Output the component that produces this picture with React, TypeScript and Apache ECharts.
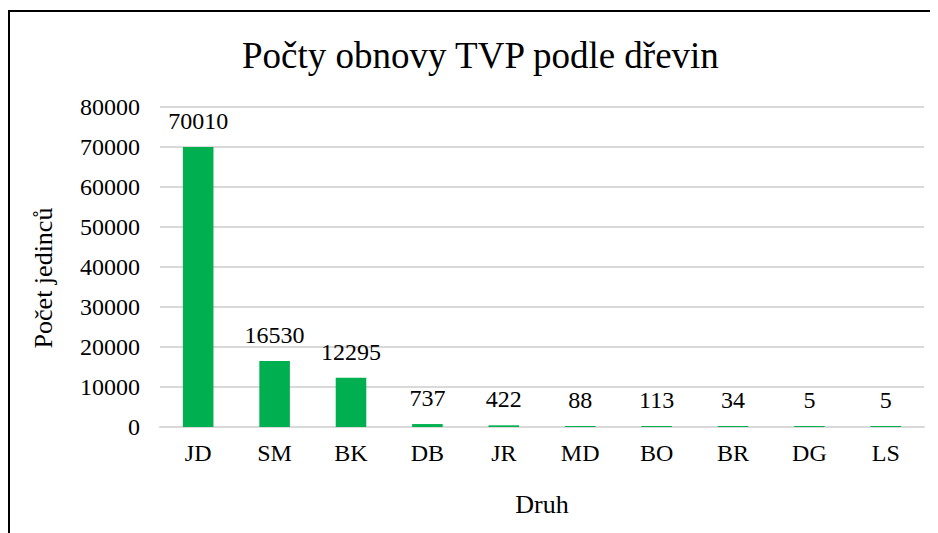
import React, { useEffect, useRef } from "react";
import * as echarts from "echarts";

const categories = ["JD", "SM", "BK", "DB", "JR", "MD", "BO", "BR", "DG", "LS"];
const values = [70010, 16530, 12295, 737, 422, 88, 113, 34, 5, 5];

const FONT = "Liberation Serif";

export default function App() {
  const ref = useRef<HTMLDivElement>(null);
  useEffect(() => {
    if (!ref.current) return;
    const chart = echarts.init(ref.current, null, { renderer: "svg" });
    const txt = { fontFamily: FONT, fontSize: 24, color: "#000" };
    const nameTxt = { fontFamily: FONT, fontSize: 26, color: "#000" };
    chart.setOption({
      animation: false,
      backgroundColor: "#fff",
      textStyle: { fontFamily: FONT },
      title: {
        text: "Počty obnovy TVP podle dřevin",
        left: 229,
        top: 24,
        textStyle: { fontFamily: FONT, fontSize: 37, fontWeight: "normal", color: "#000" },
      },
      graphic: [
        {
          type: "rect",
          shape: { x: 1, y: 3, width: 1200, height: 1200 },
          style: { fill: "none", stroke: "#000", lineWidth: 2 },
          silent: true,
        },
      ],
      grid: { left: 152, right: 14, top: 99, bottom: 106 },
      xAxis: {
        type: "category",
        data: categories,
        name: "Druh",
        nameLocation: "middle",
        nameGap: 64,
        nameTextStyle: nameTxt,
        axisLine: { lineStyle: { color: "#d9d9d9", width: 2 } },
        axisTick: { show: false },
        axisLabel: { ...txt, margin: 14 },
      },
      yAxis: {
        type: "value",
        min: 0,
        max: 80000,
        interval: 10000,
        name: "Počet jedinců",
        nameLocation: "middle",
        nameGap: 104,
        nameTextStyle: { ...nameTxt, padding: [0, 22, 0, 0] },
        axisLine: { show: false },
        axisTick: { show: false },
        axisLabel: { ...txt, margin: 20, formatter: (v: number) => String(v) },
        splitLine: { lineStyle: { color: "#d9d9d9", width: 2 } },
      },
      series: [
        {
          type: "bar",
          data: values,
          barWidth: "40%",
          barMinHeight: 1,
          itemStyle: { color: "#00b050" },
          label: {
            show: true,
            position: "top",
            distance: 14,
            ...txt,
          },
        },
      ],
    });
    return () => chart.dispose();
  }, []);
  return <div ref={ref} style={{ width: 930, height: 525 }} />;
}
